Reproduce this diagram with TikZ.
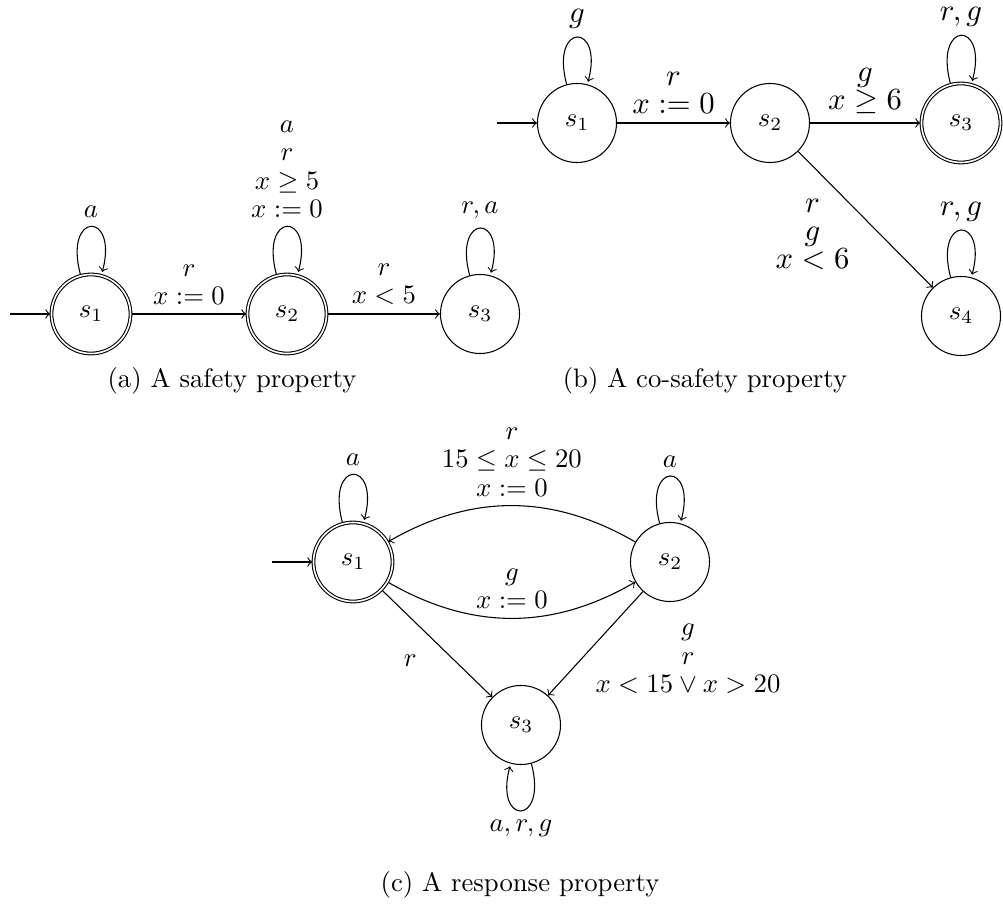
\RequirePackage{fix-cm}
\documentclass[tikz,border=0pt]{standalone}
\usetikzlibrary{automata}
\begin{document}
\begin{tikzpicture}[x=0.3745pt,y=0.3745pt,
  every state/.style={draw,circle,minimum size=29.6pt,inner sep=0pt},
  initial text={}, initial distance=15pt,
  lbl/.style={align=center,font=\fontsize{10}{10.6}\selectfont},
  lblb/.style={align=center,font=\fontsize{11.5}{10.5}\selectfont},
  captext/.style={font=\fontsize{10}{12}\selectfont}]
\useasboundingbox (0,0) rectangle (1003,907);
% (a) safety
\node[state,initial,accepting] (a1) at (91,593) {$s_1$};
\node[state,accepting] (a2) at (287,593) {$s_2$};
\node[state] (a3) at (480,593) {$s_3$};
\path[->]
  (a1) edge[loop above] node[above,lbl]{$a$} ()
  (a1) edge node[above,lbl]{$r$\\$x:=0$} (a2)
  (a2) edge[loop above] node[above,lbl]{$a$\\$r$\\$x\geq5$\\$x:=0$} ()
  (a2) edge node[above,lbl]{$r$\\$x<5$} (a3)
  (a3) edge[loop above] node[above,lbl]{$r,a$} ();
\node[captext] (capa) at (232,526) {(a) A safety property};
% (b) co-safety
\node[state,initial] (b1) at (577,784) {$s_1$};
\node[state] (b2) at (770,784) {$s_2$};
\node[state,accepting] (b3) at (961,784) {$s_3$};
\node[state] (b4) at (961,591) {$s_4$};
\path[->]
  (b1) edge[loop above] node[above,lblb]{$g$} ()
  (b1) edge node[above,lblb]{$r$\\$x:=0$} (b2)
  (b2) edge node[above,lblb]{$g$\\$x\geq6$} (b3)
  (b2) edge node[lblb,shift={(-53,-15)}]{$r$\\$g$\\$x<6$} (b4)
  (b3) edge[loop above] node[above,lblb]{$r,g$} ()
  (b4) edge[loop above] node[above,lblb]{$r,g$} ();
\node[captext] (capb) at (705,526) {(b) A co-safety property};
% (c) response
\node[state,initial,accepting] (c1) at (353,345) {$s_1$};
\node[state] (c2) at (670,345) {$s_2$};
\node[state] (c3) at (521,182) {$s_3$};
\path[->]
  (c1) edge[loop above] node[above,lbl]{$a$} ()
  (c2) edge[loop above] node[above,lbl]{$a$} ()
  (c2) edge[bend right] node[above,lbl]{$r$\\$15\leq x\leq20$\\$x:=0$} (c1)
  (c1) edge[bend right] node[above,lbl]{$g$\\$x:=0$} (c2)
  (c1) edge node[lbl,shift={(-27,-16.5)}]{$r$} (c3)
  (c2) edge node[lbl,shift={(92.5,-15.5)}]{$g$\\$r$\\$x<15\vee x>20$} (c3)
  (c3) edge[loop below] node[below,lbl]{$a,r,g$} ();
\node[captext] (capc) at (520,22) {(c) A response property};
\end{tikzpicture}
\end{document}
